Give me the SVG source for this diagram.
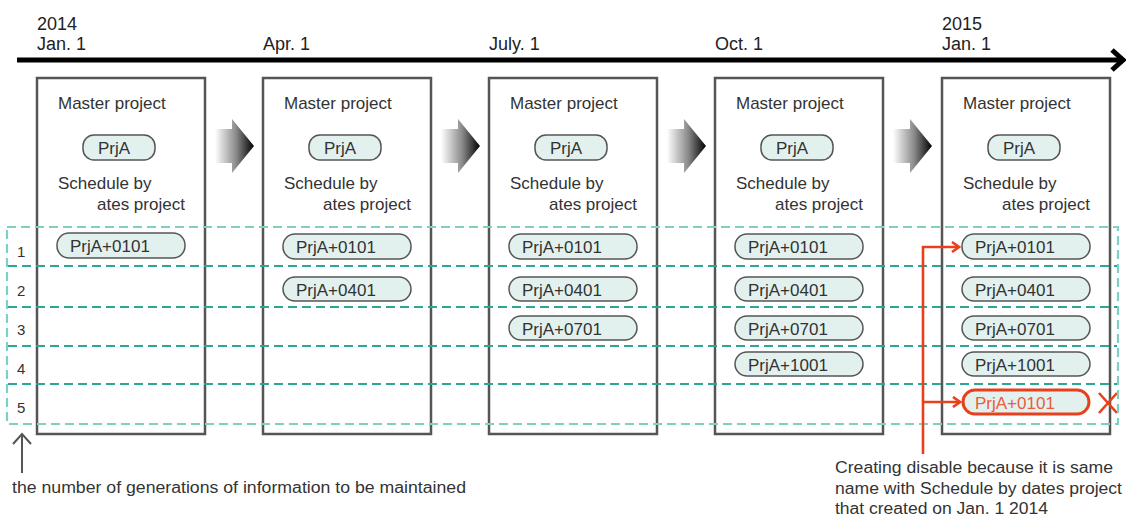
<svg xmlns="http://www.w3.org/2000/svg" width="1126" height="518" viewBox="0 0 1126 518">
<style>
text{font-family:"Liberation Sans",Arial,sans-serif;fill:#333}
.lbl{font-size:17px}
.tl{font-size:18px;fill:#222}
.pt{font-size:17px}
.box{fill:#fff;stroke:#555;stroke-width:2.5}
.pill{fill:#e2f1ee;stroke:#555;stroke-width:1.5}
.red{fill:#e2f1ee;stroke:#e8401c;stroke-width:3}
.dash{fill:none;stroke:#2ea696;stroke-width:2.2;stroke-dasharray:9 5}
.num{font-size:15px}
.note{font-size:16px}
</style>
<defs>
<linearGradient id="g" x1="0" x2="1" y1="0" y2="0">
<stop offset="0" stop-color="#fff"/>
<stop offset="0.55" stop-color="#888"/>
<stop offset="1" stop-color="#000"/>
</linearGradient>
<marker id="ra" markerWidth="12" markerHeight="12" refX="10" refY="6" orient="auto" markerUnits="userSpaceOnUse">
<path d="M3,1 L10,6 L3,11" fill="none" stroke="#e8401c" stroke-width="2.6"/>
</marker>
<path id="bigarrow" d="M0,10 L17,10 L17,0 L39,27 L17,54 L17,44 L0,44 Z" fill="url(#g)"/>
</defs>

<g id="timeline">
<line x1="17" y1="60" x2="1122" y2="60" stroke="#000" stroke-width="5"/>
<path d="M1112,50 L1123,60 L1112,70" fill="none" stroke="#000" stroke-width="5"/>
<text class="tl" x="37" y="30">2014</text>
<text class="tl" x="37" y="50">Jan. 1</text>
<text class="tl" x="263" y="50">Apr. 1</text>
<text class="tl" x="489" y="50">July. 1</text>
<text class="tl" x="715" y="50">Oct. 1</text>
<text class="tl" x="942" y="30">2015</text>
<text class="tl" x="942" y="50">Jan. 1</text>
</g>

<g id="box1">
<rect class="box" x="37" y="78" width="168" height="356"/>
<text class="lbl" x="58" y="109">Master project</text>
<rect class="pill" x="83" y="135" width="72" height="25" rx="11"/>
<text class="pt" x="98" y="154">PrjA</text>
<text class="lbl" x="58" y="189">Schedule by</text>
<text class="lbl" x="97" y="210">ates project</text>
<rect class="pill" x="57" y="233" width="128" height="25" rx="12"/>
<text class="pt" x="70" y="252">PrjA+0101</text>
</g>

<g id="box2">
<rect class="box" x="263" y="78" width="168" height="356"/>
<text class="lbl" x="284" y="109">Master project</text>
<rect class="pill" x="309" y="135" width="72" height="25" rx="11"/>
<text class="pt" x="324" y="154">PrjA</text>
<text class="lbl" x="284" y="189">Schedule by</text>
<text class="lbl" x="323" y="210">ates project</text>
<rect class="pill" x="283" y="234" width="128" height="25" rx="12"/>
<text class="pt" x="296" y="253">PrjA+0101</text>
<rect class="pill" x="283" y="277" width="128" height="24" rx="12"/>
<text class="pt" x="296" y="295.5">PrjA+0401</text>
</g>

<g id="box3">
<rect class="box" x="489" y="78" width="168" height="356"/>
<text class="lbl" x="510" y="109">Master project</text>
<rect class="pill" x="535" y="135" width="72" height="25" rx="11"/>
<text class="pt" x="550" y="154">PrjA</text>
<text class="lbl" x="510" y="189">Schedule by</text>
<text class="lbl" x="549" y="210">ates project</text>
<rect class="pill" x="509" y="234" width="128" height="25" rx="12"/>
<text class="pt" x="522" y="253">PrjA+0101</text>
<rect class="pill" x="509" y="277" width="128" height="24" rx="12"/>
<text class="pt" x="522" y="295.5">PrjA+0401</text>
<rect class="pill" x="509" y="316" width="128" height="24" rx="12"/>
<text class="pt" x="522" y="334.5">PrjA+0701</text>
</g>

<g id="box4">
<rect class="box" x="715" y="78" width="168" height="356"/>
<text class="lbl" x="736" y="109">Master project</text>
<rect class="pill" x="761" y="135" width="72" height="25" rx="11"/>
<text class="pt" x="776" y="154">PrjA</text>
<text class="lbl" x="736" y="189">Schedule by</text>
<text class="lbl" x="775" y="210">ates project</text>
<rect class="pill" x="735" y="234" width="128" height="25" rx="12"/>
<text class="pt" x="748" y="253">PrjA+0101</text>
<rect class="pill" x="735" y="277" width="128" height="24" rx="12"/>
<text class="pt" x="748" y="295.5">PrjA+0401</text>
<rect class="pill" x="735" y="316" width="128" height="24" rx="12"/>
<text class="pt" x="748" y="334.5">PrjA+0701</text>
<rect class="pill" x="735" y="352" width="128" height="24" rx="12"/>
<text class="pt" x="748" y="370.5">PrjA+1001</text>
</g>

<g id="box5">
<rect class="box" x="942" y="78" width="168" height="356"/>
<text class="lbl" x="963" y="109">Master project</text>
<rect class="pill" x="988" y="135" width="72" height="25" rx="11"/>
<text class="pt" x="1003" y="154">PrjA</text>
<text class="lbl" x="963" y="189">Schedule by</text>
<text class="lbl" x="1002" y="210">ates project</text>
<rect class="pill" x="962" y="234" width="128" height="25" rx="12"/>
<text class="pt" x="975" y="253">PrjA+0101</text>
<rect class="pill" x="962" y="277" width="128" height="24" rx="12"/>
<text class="pt" x="975" y="295.5">PrjA+0401</text>
<rect class="pill" x="962" y="316" width="128" height="24" rx="12"/>
<text class="pt" x="975" y="334.5">PrjA+0701</text>
<rect class="pill" x="962" y="352" width="128" height="24" rx="12"/>
<text class="pt" x="975" y="370.5">PrjA+1001</text>
<rect class="red" x="963" y="390" width="126" height="24" rx="12"/>
<text class="pt" x="975" y="408.5" style="fill:#ee5a3a">PrjA+0101</text>
<path d="M1099,393 L1117,413 M1117,393 L1099,413" stroke="#e8401c" stroke-width="2.6"/>
</g>

<g id="generations">
<rect class="dash" x="7" y="227" width="1111" height="197" style="stroke:#7fd0c3"/>
<line class="dash" x1="8" y1="266" x2="1117" y2="266"/>
<line class="dash" x1="8" y1="307" x2="1117" y2="307"/>
<line class="dash" x1="8" y1="346" x2="1117" y2="346"/>
<line class="dash" x1="8" y1="384" x2="1117" y2="384"/>
<text class="num" x="17" y="257">1</text>
<text class="num" x="17" y="296">2</text>
<text class="num" x="17" y="335">3</text>
<text class="num" x="17" y="374">4</text>
<text class="num" x="17" y="413">5</text>
</g>

<g id="connectors">
<use href="#bigarrow" x="215" y="119"/>
<use href="#bigarrow" x="441" y="119"/>
<use href="#bigarrow" x="667" y="119"/>
<use href="#bigarrow" x="893" y="119"/>
<path d="M923,454 L923,247 L959,247" fill="none" stroke="#e8401c" stroke-width="2.6" marker-end="url(#ra)"/>
<path d="M923,402 L960,402" fill="none" stroke="#e8401c" stroke-width="2.6" marker-end="url(#ra)"/>
<path d="M22,473 L22,435 M13,444 L22,434 L31,444" fill="none" stroke="#555" stroke-width="2"/>
</g>

<g id="notes">
<text class="note" x="12" y="493" textLength="454" lengthAdjust="spacingAndGlyphs">the number of generations of information to be maintained</text>
<text class="note" x="835" y="473" textLength="278" lengthAdjust="spacingAndGlyphs">Creating disable because it is same</text>
<text class="note" x="835" y="494" textLength="287" lengthAdjust="spacingAndGlyphs">name with Schedule by dates project</text>
<text class="note" x="835" y="514" textLength="213" lengthAdjust="spacingAndGlyphs">that created on Jan. 1 2014</text>
</g>
</svg>
